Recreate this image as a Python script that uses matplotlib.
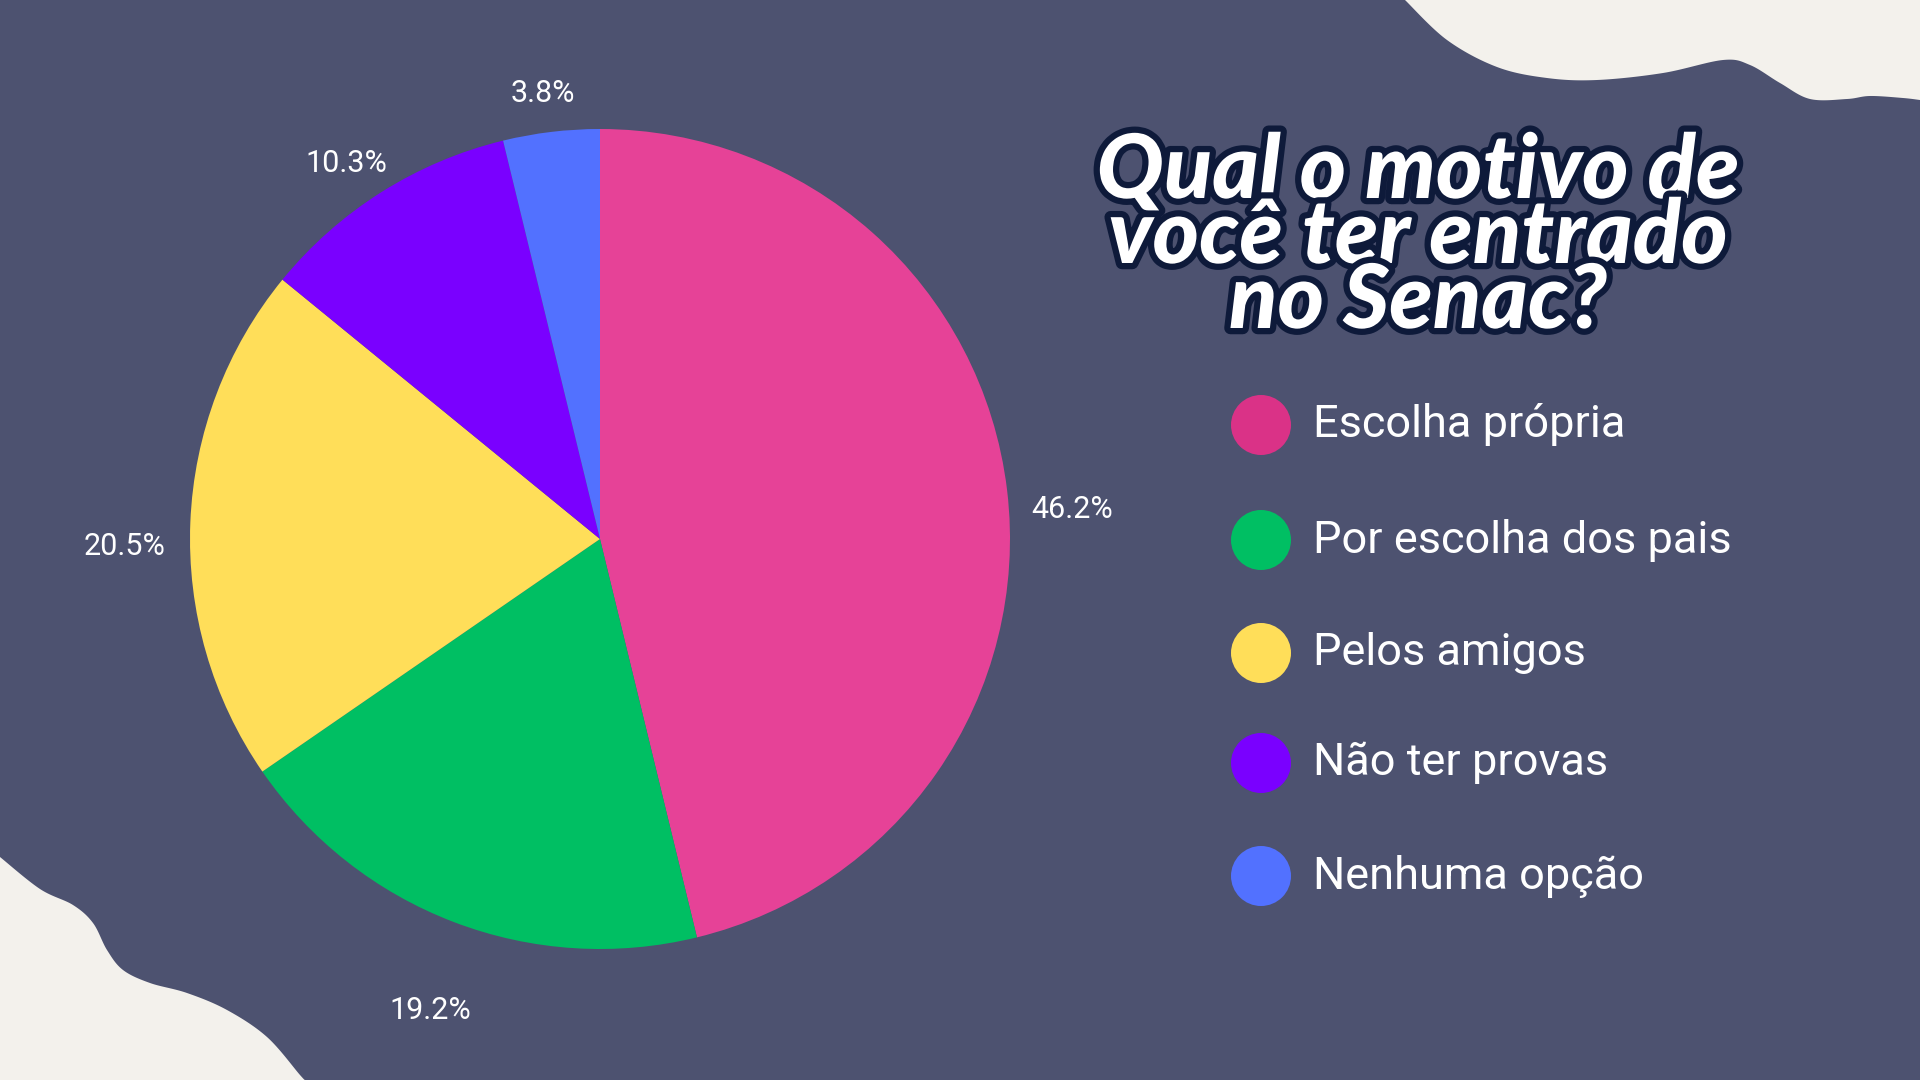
import numpy as np
import matplotlib.pyplot as plt
import matplotlib.patheffects as pe
from matplotlib.patches import Polygon, Circle

# data
categorias = ["Escolha própria", "Por escolha dos pais", "Pelos amigos",
              "Não ter provas", "Nenhuma opção"]
percentuais = [46.2, 19.2, 20.5, 10.3, 3.8]
cores_pie = ["#E64297", "#00BF63", "#FFDE59", "#7A00FF", "#5271FF"]
cores_legenda = ["#DA3287", "#00BF63", "#FFDE59", "#7A00FF", "#5271FF"]
titulo = ["Qual o motivo de", "você ter entrado", "no Senac?"]

BG = "#4D5270"
CREME = "#F3F1EC"


def suave(pts, n=20):
    # catmull-rom so the blobs look smooth
    pts = np.array(pts, dtype=float)
    p = np.vstack([pts[0], pts, pts[-1]])
    out = []
    for i in range(1, len(p) - 2):
        p0, p1, p2, p3 = p[i - 1], p[i], p[i + 1], p[i + 2]
        for t in np.linspace(0, 1, n, endpoint=False):
            t2, t3 = t * t, t * t * t
            out.append(0.5 * ((2 * p1) + (-p0 + p2) * t +
                              (2 * p0 - 5 * p1 + 4 * p2 - p3) * t2 +
                              (-p0 + 3 * p1 - 3 * p2 + p3) * t3))
    out.append(pts[-1])
    return np.array(out)


fig = plt.figure(figsize=(19.2, 10.8), dpi=100)
fig.patch.set_facecolor(BG)

# background layer in pixel coords
bg = fig.add_axes([0, 0, 1, 1])
bg.set_xlim(0, 1920)
bg.set_ylim(1080, 0)
bg.axis("off")

canto_inf = [(0, 857), (40, 889), (73, 905), (93, 923), (107, 950), (123, 970),
             (150, 983), (187, 993), (227, 1010), (267, 1037), (300, 1075), (305, 1080)]
c = suave(canto_inf)
c = np.vstack([c, [(0, 1080)]])
bg.add_patch(Polygon(c, closed=True, facecolor=CREME, edgecolor="none"))

canto_sup = [(1405, 0), (1447, 40), (1497, 67), (1547, 78), (1597, 80), (1663, 73),
             (1723, 60), (1750, 65), (1780, 83), (1810, 99), (1847, 99), (1870, 96),
             (1903, 98), (1920, 100)]
c = suave(canto_sup)
c = np.vstack([c, [(1920, 0)]])
bg.add_patch(Polygon(c, closed=True, facecolor=CREME, edgecolor="none"))

# pie
cx, cy, r = 600, 539, 410
ax = fig.add_axes([(cx - r) / 1920, (1080 - cy - r) / 1080, 2 * r / 1920, 2 * r / 1080])
wedges, textos, pct = ax.pie(percentuais, colors=cores_pie, startangle=90,
                             counterclock=False, autopct="%.1f%%", pctdistance=1.16,
                             wedgeprops=dict(linewidth=0),
                             textprops=dict(color="white", fontsize=22,
                                            family="Roboto", fontweight="normal"))
# labels sit a bit lower than the default spot
for t in pct:
    x, y = t.get_position()
    t.set_position((x, y - 0.065))
ax.set_xlim(-1, 1)
ax.set_ylim(-1, 1)
ax.set_aspect("equal")
ax.axis("off")

# title
contorno = [pe.withStroke(linewidth=9, foreground="#0E1A3A")]
for i, linha in enumerate(titulo):
    bg.text(1418, 198 + i * 65, linha, ha="center", va="baseline", color="white",
            fontsize=64, family="Lato", fontweight="black", fontstyle="italic",
            path_effects=contorno)

# legend
for i, (cat, cor) in enumerate(zip(categorias, cores_legenda)):
    y = [425, 540, 653, 763, 876][i]
    bg.add_patch(Circle((1261, y), 30, facecolor=cor, edgecolor="none"))
    bg.text(1313, y, cat, ha="left", va="center", color="white", fontsize=32.5,
            family="Roboto", fontweight="normal")

fig.savefig("out.png", dpi=100, facecolor=BG)
